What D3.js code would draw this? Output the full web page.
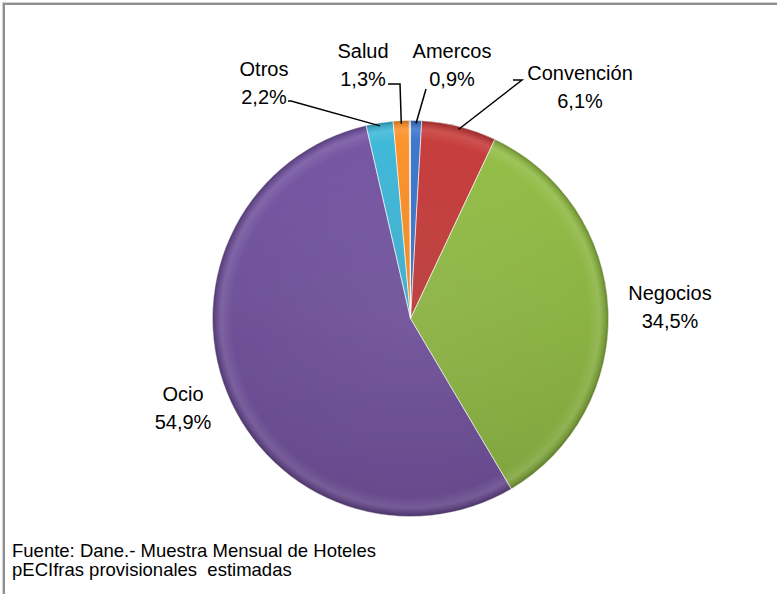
<!DOCTYPE html>
<html>
<head>
<meta charset="utf-8">
<script src="https://cdn.jsdelivr.net/npm/d3@7"></script>
<style>
  html, body { margin: 0; padding: 0; background: #fff; }
  svg { display: block; }
  text { font-family: "Liberation Sans", Arial, sans-serif; fill: #000; white-space: pre; }
</style>
</head>
<body>
<svg id="chart" width="777" height="594"></svg>
<script>
// ---- data ----
const categories = ["Amercos", "Convención", "Negocios", "Ocio", "Otros", "Salud", ""];
const values = [0.9, 6.1, 34.5, 54.9, 2.2, 1.3, 0.1];
const valueLabels = ["0,9%", "6,1%", "34,5%", "54,9%", "2,2%", "1,3%", ""];
const colors = ["#3c74c6", "#c13c3b", "#90b946", "#73549e", "#3fb2d2", "#f48e2b", "#b49676"];
const footer = ["Fuente: Dane.- Muestra Mensual de Hoteles", "pECIfras provisionales  estimadas"];

// ---- layout (styling, not data) ----
const W = 777, H = 594;
const cx = 410.5, cy = 318.5, R = 198;
const lineGap = 28;
// label centre x and first baseline y, plus optional leader start/elbow points
const labelLayout = [
  { x: 452, y: 58, leader: [[426, 89]] },
  { x: 580, y: 80, leader: [[513, 80], [522, 80]] },
  { x: 670, y: 300, leader: null },
  { x: 183, y: 401, leader: null },
  { x: 264, y: 76, leader: [[288, 101], [291, 101]] },
  { x: 363, y: 58, leader: [[388, 84], [400, 84]] },
  null
];

const svg = d3.select("#chart");
const defs = svg.append("defs");

// frame
svg.append("rect")
  .attr("x", 4).attr("y", 4).attr("width", W + 20).attr("height", H + 20)
  .attr("fill", "none").attr("stroke", "#8f8f8f").attr("stroke-width", 2);
svg.append("rect")
  .attr("x", 2.5).attr("y", 2.5).attr("width", W + 20).attr("height", H + 20)
  .attr("fill", "none").attr("stroke", "#d0d0d0").attr("stroke-width", 1);

const pie = d3.pie().value(d => d).sort(null).startAngle(0).endAngle(2 * Math.PI);
const arcs = pie(values);
const arc = d3.arc().innerRadius(0).outerRadius(R);

// gradients per slice (vertical light->dark)
colors.forEach((c, i) => {
  const g = defs.append("linearGradient")
    .attr("id", "g" + i)
    .attr("gradientUnits", "userSpaceOnUse")
    .attr("x1", 0).attr("y1", -R).attr("x2", 0).attr("y2", R);
  g.append("stop").attr("offset", "0%").attr("stop-color", d3.color(c).brighter(0.12));
  g.append("stop").attr("offset", "100%").attr("stop-color", d3.color(c).darker(0.35));
});

// rim shading
const rim = defs.append("radialGradient")
  .attr("id", "rim").attr("gradientUnits", "userSpaceOnUse")
  .attr("cx", 0).attr("cy", 0).attr("r", R);
[[0, "#fff", 0.05], [0.9, "#fff", 0], [0.955, "#fff", 0.1], [0.985, "#000", 0.12], [1, "#000", 0.3]]
  .forEach(s => rim.append("stop").attr("offset", s[0]).attr("stop-color", s[1]).attr("stop-opacity", s[2]));

const soft = defs.append("filter").attr("id", "soft").attr("x", "-5%").attr("y", "-5%").attr("width", "110%").attr("height", "110%");
soft.append("feGaussianBlur").attr("stdDeviation", 0.5);

const g = svg.append("g").attr("transform", `translate(${cx},${cy})`);

g.selectAll("path.slice").data(arcs).enter().append("path")
  .attr("class", "slice")
  .attr("d", arc)
  .attr("fill", (d, i) => `url(#g${i})`)
  .attr("filter", "url(#soft)");

g.selectAll("path.rim").data(arcs).enter().append("path")
  .attr("class", "rim")
  .attr("d", arc)
  .attr("fill", "url(#rim)")
  .attr("stroke", "rgba(255,255,255,0.45)")
  .attr("stroke-width", 1);

// leader lines
arcs.forEach((d, i) => {
  const L = labelLayout[i];
  if (!L || !L.leader) return;
  const mid = (d.startAngle + d.endAngle) / 2;
  const px = cx + Math.sin(mid) * (R - 3);
  const py = cy - Math.cos(mid) * (R - 3);
  const pts = L.leader.concat([[px, py]]);
  svg.append("path")
    .attr("d", d3.line()(pts))
    .attr("fill", "none").attr("stroke", "#000").attr("stroke-width", 1.5);
});

// labels
arcs.forEach((d, i) => {
  const L = labelLayout[i];
  if (!L) return;
  const t = svg.append("text").attr("text-anchor", "middle").attr("font-size", 20);
  t.append("tspan").attr("x", L.x).attr("y", L.y).text(categories[i]);
  t.append("tspan").attr("x", L.x).attr("y", L.y + lineGap).text(valueLabels[i]);
});

// footer
footer.forEach((s, i) => {
  svg.append("text")
    .attr("x", 12).attr("y", 557 + i * 19)
    .attr("font-size", 18.5)
    .text(s);
});
</script>
</body>
</html>
